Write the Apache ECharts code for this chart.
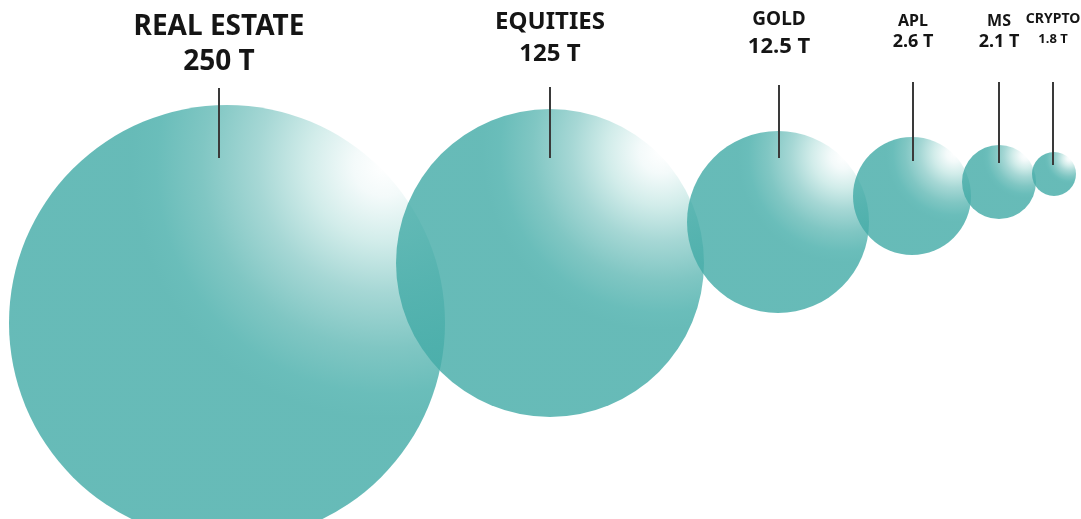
<!DOCTYPE html>
<html>
<head>
<meta charset="utf-8">
<script src="https://cdn.jsdelivr.net/npm/echarts@6/dist/echarts.min.js"></script>
<style>
  html, body { margin: 0; padding: 0; background: #ffffff; }
  #chart { width: 1081px; height: 519px; }
</style>
</head>
<body>
<div id="chart"></div>
<script>
// ---- data ----
const categories = ['REAL ESTATE', 'EQUITIES', 'GOLD', 'APL', 'MS', 'CRYPTO'];
const values = [250, 125, 12.5, 2.6, 2.1, 1.8];   // trillions (T)
const unit = 'T';

// ---- layout / style (pixel space of the hidden axes) ----
const centerX = [227, 550, 778, 912, 999, 1054];
const centerY = [323, 263, 222, 196, 182, 174];
const diameters = [436, 308, 182, 118, 74, 44];
const labelX = [219, 550, 779, 913, 999, 1053];
const nameFont = [28, 24, 19, 16, 16, 14];
const valueFont = [28, 24, 22, 18, 18, 13];
const nameY = [27, 22, 20, 21, 21, 19];
const valueY = [62, 54, 47, 42, 42, 39];
const lineTop = [88, 87, 85, 82, 82, 82];
const lineBottom = [158, 158, 158, 161, 163, 165];

const alpha = 0.81;
// convert the colour wanted on white paper into the base colour used with alpha
function base(hex) {
  const n = parseInt(hex.slice(1), 16);
  const ch = [(n >> 16) & 255, (n >> 8) & 255, n & 255].map(v =>
    Math.max(0, Math.min(255, Math.round(255 - (255 - v) / alpha))));
  return 'rgb(' + ch.join(',') + ')';
}
function bubbleGradient() {
  return new echarts.graphic.RadialGradient(0.86, 0.14, 0.58, [
    { offset: 0, color: base('#ffffff') },
    { offset: 0.12, color: base('#f4fafa') },
    { offset: 0.3, color: base('#d2ecea') },
    { offset: 0.5, color: base('#a6d7d5') },
    { offset: 0.72, color: base('#80c6c3') },
    { offset: 0.9, color: base('#6abdba') },
    { offset: 1, color: base('#67bbb8') }
  ]);
}

const bubbleData = categories.map((c, i) => ({
  name: c,
  value: [centerX[i], centerY[i], values[i]],
  symbolSize: diameters[i],
  itemStyle: { color: bubbleGradient(), opacity: alpha }
}));

const labelData = categories.map((c, i) => [labelX[i], values[i], i]);

const chart = echarts.init(document.getElementById('chart'), null, { renderer: 'canvas' });
chart.setOption({
  backgroundColor: '#ffffff',
  animation: false,
  grid: { left: 0, right: 0, top: 0, bottom: 0 },
  xAxis: { type: 'value', min: 0, max: 1081, show: false },
  yAxis: { type: 'value', min: 0, max: 519, inverse: true, show: false },
  series: [
    {
      type: 'scatter',
      symbol: 'circle',
      data: bubbleData,
      silent: true,
      z: 1
    },
    {
      type: 'custom',
      data: labelData,
      silent: true,
      z: 5,
      renderItem: function (params, api) {
        const i = api.value(2);
        const x = api.coord([api.value(0), 0])[0];
        const yTop = api.coord([0, lineTop[i]])[1];
        const yBot = api.coord([0, lineBottom[i]])[1];
        const ff = '"Noto Sans", "Open Sans", sans-serif';
        return {
          type: 'group',
          children: [
            {
              type: 'line',
              shape: { x1: x, y1: yTop, x2: x, y2: yBot },
              style: { stroke: '#3a3a3a', lineWidth: 2 }
            },
            {
              type: 'text',
              x: x, y: api.coord([0, nameY[i]])[1],
              style: {
                text: categories[i],
                fontFamily: ff, fontWeight: 'bold', fontSize: nameFont[i],
                fill: '#151515', align: 'center', verticalAlign: 'middle'
              }
            },
            {
              type: 'text',
              x: x, y: api.coord([0, valueY[i]])[1],
              style: {
                text: api.value(1) + ' ' + unit,
                fontFamily: ff, fontWeight: 'bold', fontSize: valueFont[i],
                fill: '#151515', align: 'center', verticalAlign: 'middle'
              }
            }
          ]
        };
      }
    }
  ]
});
</script>
</body>
</html>
